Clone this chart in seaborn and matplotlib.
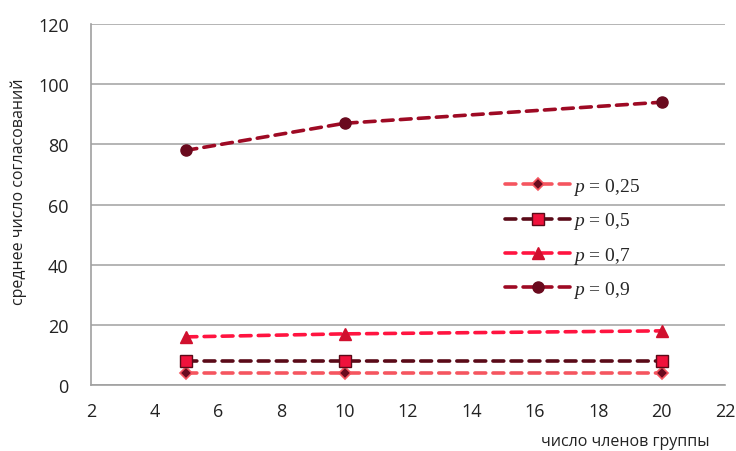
import matplotlib
matplotlib.use("Agg")
import matplotlib.pyplot as plt
import seaborn as sns
import pandas as pd

group_size = [5, 10, 20]
p_labels = ["0,25", "0,5", "0,7", "0,9"]
mean_025 = [4, 4, 4]
mean_05 = [8, 8, 8]
mean_07 = [16, 17, 18]
mean_09 = [78, 87, 94]

x_ticks = [2, 4, 6, 8, 10, 12, 14, 16, 18, 20, 22]
y_ticks = [0, 20, 40, 60, 80, 100, 120]

sns.set_theme(style="white")
plt.rcParams["font.family"] = ["Open Sans", "DejaVu Sans"]
plt.rcParams["mathtext.fontset"] = "custom"
plt.rcParams["mathtext.it"] = "Liberation Serif:italic"
plt.rcParams["mathtext.rm"] = "Liberation Serif"

styles = [
    dict(color="#F5555F", marker="D", ms=6, mfc="#6A0A1E", mec="#F5555F", mew=1.2),
    dict(color="#5A0A18", marker="s", ms=8, mfc="#F0123C", mec="#5A0A18", mew=1.0),
    dict(color="#FF1440", marker="^", ms=9, mfc="#D0102E", mec="#D0102E", mew=1.0),
    dict(color="#9E0A24", marker="o", ms=8, mfc="#6A0A1E", mec="#6A0A1E", mew=1.0),
]
series = [mean_025, mean_05, mean_07, mean_09]

fig = plt.figure(figsize=(7.36, 4.52), dpi=100)
ax = fig.add_axes([0.1236, 0.146, 0.8614, 0.7987])

for vals, lab, st in zip(series, p_labels, styles):
    df = pd.DataFrame({"x": group_size, "y": vals})
    sns.lineplot(data=df, x="x", y="y", ax=ax, color=st["color"], lw=2.6,
                 linestyle=(0, (3, 2)), dash_capstyle="round",
                 marker=st["marker"], markersize=st["ms"],
                 markerfacecolor=st["mfc"], markeredgecolor=st["mec"],
                 markeredgewidth=st["mew"], label=f"$p$ = {lab}")

ax.set_xlim(2, 22)
ax.set_ylim(0, 120)
ax.set_xticks(x_ticks)
ax.set_yticks(y_ticks)
ax.tick_params(axis="both", labelsize=13, colors="#A0A0A0", labelcolor="#222222",
               length=6, width=1.2, direction="out")
ax.tick_params(axis="x", pad=6)
ax.tick_params(axis="y", pad=10)
ax.yaxis.grid(True, color="#A8A8A8", lw=1.2)
ax.set_axisbelow(True)
for side in ["top", "right"]:
    ax.spines[side].set_visible(False)
for side in ["left", "bottom"]:
    ax.spines[side].set_color("#A0A0A0")
    ax.spines[side].set_linewidth(1.2)

ax.set_xlabel("")
ax.set_ylabel("")
fig.text(0.026, 0.575, "среднее число согласований", rotation=90,
         ha="center", va="center", fontsize=11.5, color="#222222")
fig.text(0.85, 0.022, "число членов группы", ha="center", va="center",
         fontsize=11.5, color="#222222")

leg = ax.legend(loc="upper left", bbox_to_anchor=(0.64, 0.60), frameon=False,
                prop={"family": "Liberation Serif", "size": 14},
                labelspacing=0.68, handlelength=3.4, handletextpad=0.1,
                borderaxespad=0)

fig.savefig("out.png", dpi=100)
